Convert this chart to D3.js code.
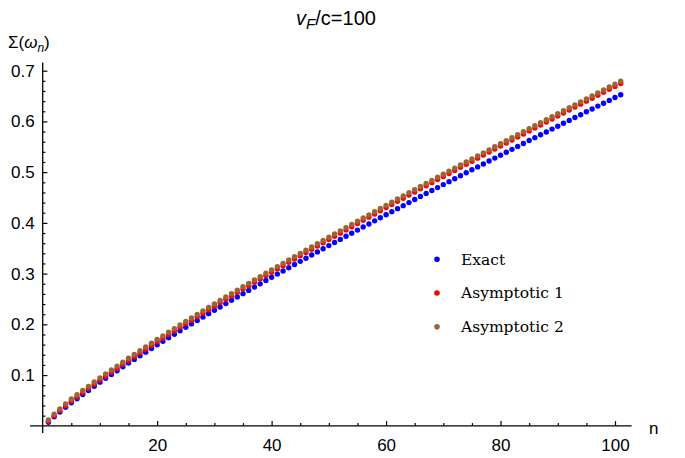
<!DOCTYPE html>
<html>
<head>
<meta charset="utf-8">
<script src="https://cdn.jsdelivr.net/npm/d3@7"></script>
<style>
  body { margin: 0; background: #fff; }
  svg { display: block; }
  .tick text { font-family: "Liberation Sans", Arial, sans-serif; font-size: 17px; fill: #000; }
</style>
</head>
<body>
<svg id="chart" width="685" height="458"></svg>
<script>
// values, n = 1..101
var exact = [0.0069,0.0176,0.0273,0.0365,0.0453,0.0534,0.0616,0.0697,0.0779,0.0860,
  0.0935,0.1011,0.1086,0.1162,0.1237,0.1309,0.1381,0.1452,0.1524,0.1596,
  0.1665,0.1734,0.1804,0.1873,0.1942,0.2009,0.2076,0.2144,0.2211,0.2278,
  0.2343,0.2409,0.2474,0.2540,0.2605,0.2669,0.2734,0.2798,0.2863,0.2927,
  0.2990,0.3053,0.3116,0.3179,0.3242,0.3304,0.3366,0.3428,0.3490,0.3552,
  0.3613,0.3674,0.3736,0.3797,0.3858,0.3919,0.3979,0.4040,0.4100,0.4161,
  0.4221,0.4281,0.4340,0.4400,0.4460,0.4519,0.4578,0.4637,0.4696,0.4755,
  0.4813,0.4871,0.4930,0.4988,0.5046,0.5104,0.5162,0.5219,0.5277,0.5335,
  0.5393,0.5450,0.5508,0.5565,0.5623,0.5680,0.5736,0.5793,0.5849,0.5906,
  0.5963,0.6020,0.6076,0.6133,0.6190,0.6246,0.6302,0.6359,0.6415,0.6471,
  0.6526];
var asym1 = [0.0091,0.0200,0.0299,0.0393,0.0483,0.0566,0.0650,0.0733,0.0817,0.0900,
  0.0977,0.1055,0.1132,0.1210,0.1287,0.1361,0.1435,0.1508,0.1582,0.1656,
  0.1727,0.1798,0.1870,0.1941,0.2012,0.2081,0.2150,0.2220,0.2289,0.2358,
  0.2425,0.2493,0.2560,0.2628,0.2695,0.2761,0.2828,0.2894,0.2961,0.3027,
  0.3092,0.3157,0.3222,0.3287,0.3352,0.3416,0.3480,0.3544,0.3608,0.3672,
  0.3735,0.3798,0.3862,0.3925,0.3988,0.4051,0.4113,0.4176,0.4238,0.4301,
  0.4363,0.4425,0.4486,0.4548,0.4610,0.4671,0.4732,0.4793,0.4854,0.4915,
  0.4975,0.5035,0.5096,0.5156,0.5216,0.5276,0.5336,0.5395,0.5455,0.5515,
  0.5575,0.5634,0.5694,0.5753,0.5813,0.5872,0.5930,0.5989,0.6047,0.6106,
  0.6165,0.6224,0.6282,0.6341,0.6400,0.6458,0.6516,0.6575,0.6633,0.6691,
  0.6748];
var asym2 = [0.0116,0.0230,0.0334,0.0433,0.0528,0.0611,0.0695,0.0778,0.0862,0.0945,
  0.1022,0.1100,0.1177,0.1255,0.1332,0.1406,0.1480,0.1553,0.1627,0.1701,
  0.1772,0.1843,0.1915,0.1986,0.2057,0.2126,0.2195,0.2265,0.2334,0.2403,
  0.2470,0.2538,0.2605,0.2673,0.2740,0.2806,0.2873,0.2939,0.3006,0.3072,
  0.3137,0.3202,0.3267,0.3332,0.3397,0.3461,0.3525,0.3589,0.3653,0.3717,
  0.3780,0.3843,0.3907,0.3970,0.4033,0.4096,0.4158,0.4221,0.4283,0.4346,
  0.4408,0.4470,0.4531,0.4593,0.4655,0.4716,0.4777,0.4838,0.4899,0.4960,
  0.5020,0.5080,0.5141,0.5201,0.5261,0.5321,0.5381,0.5440,0.5500,0.5560,
  0.5620,0.5679,0.5739,0.5798,0.5858,0.5917,0.5975,0.6034,0.6092,0.6151,
  0.6210,0.6269,0.6327,0.6386,0.6445,0.6503,0.6561,0.6620,0.6678,0.6736,
  0.6793];

var seriesNames = ['Exact', 'Asymptotic 1', 'Asymptotic 2'];
var seriesColors = ['#0000ff', '#ff0000', '#996633'];
var xTicks = [20, 40, 60, 80, 100];
var yTicks = [0.1, 0.2, 0.3, 0.4, 0.5, 0.6, 0.7];

var svg = d3.select('#chart');

var x = d3.scaleLinear().domain([0, 100]).range([42.7, 615]);
var y = d3.scaleLinear().domain([0, 0.7]).range([425.8, 70.7]);

var xMinor = d3.range(5, 103, 5).filter(function(v) { return v % 20 !== 0; });
var yMinor = d3.range(1, 36).map(function(v) { return v * 0.02; })
  .filter(function(v) { return Math.abs(v * 10 - Math.round(v * 10)) > 1e-6; });

// axes, ticks inward like Mathematica
var gx = svg.append('g').attr('transform', 'translate(0,' + y(0) + ')');
gx.call(d3.axisBottom(x).tickValues(xTicks).tickSizeInner(-4.7).tickSizeOuter(0)
  .tickPadding(13).tickFormat(d3.format('d')));
gx.append('g').call(d3.axisBottom(x).tickValues(xMinor).tickSizeInner(-2.7)
  .tickSizeOuter(0).tickFormat(''));
gx.selectAll('.domain').remove();
gx.append('line')
  .attr('x1', x(-2.2)).attr('x2', x(102.9))
  .attr('stroke', '#000').attr('stroke-width', 1.3);

var gy = svg.append('g').attr('transform', 'translate(' + x(0) + ',0)');
gy.call(d3.axisLeft(y).tickValues(yTicks).tickSizeInner(-4.7).tickSizeOuter(0)
  .tickPadding(8).tickFormat(d3.format('.1f')));
gy.append('g').call(d3.axisLeft(y).tickValues(yMinor).tickSizeInner(-2.7)
  .tickSizeOuter(0).tickFormat(''));
gy.selectAll('.domain').remove();
gy.append('line')
  .attr('y1', y(0.716)).attr('y2', y(-0.0143))
  .attr('stroke', '#000').attr('stroke-width', 1.3);

svg.selectAll('.tick line').attr('stroke', '#000').attr('stroke-width', 1.2);

// points
[exact, asym1, asym2].forEach(function(vals, k) {
  svg.append('g').selectAll('circle')
    .data(vals)
    .enter()
    .append('circle')
    .attr('cx', function(d, i) { return x(i + 1); })
    .attr('cy', function(d) { return y(d); })
    .attr('r', 2.7)
    .attr('fill', seriesColors[k]);
});

// title and axis labels
var title = svg.append('text')
  .attr('x', 336).attr('y', 25)
  .attr('text-anchor', 'middle')
  .style('font-family', '"Liberation Sans", Arial, sans-serif')
  .style('font-size', '20px');
title.append('tspan').style('font-style', 'italic').text('v');
title.append('tspan').style('font-style', 'italic').style('font-size', '15px')
  .attr('dy', 4).text('F');
title.append('tspan').attr('dy', -4).text('/c=100');

var ylab = svg.append('text')
  .attr('x', 8).attr('y', 48)
  .style('font-family', '"Liberation Sans", Arial, sans-serif')
  .style('font-size', '17px');
ylab.append('tspan').text('Σ(');
ylab.append('tspan').style('font-style', 'italic').text('ω');
ylab.append('tspan').style('font-style', 'italic').style('font-size', '12px')
  .attr('dy', 4).text('n');
ylab.append('tspan').attr('dy', -4).text(')');

svg.append('text')
  .attr('x', 649).attr('y', 434)
  .style('font-family', '"Liberation Sans", Arial, sans-serif')
  .style('font-size', '17px')
  .text('n');

// legend
var legend = svg.append('g').selectAll('g')
  .data(seriesNames)
  .enter()
  .append('g')
  .attr('transform', function(d, i) { return 'translate(437,' + (259.3 + i * 33.7) + ')'; });
legend.append('circle').attr('r', 2.8).attr('fill', function(d, i) { return seriesColors[i]; });
legend.append('text')
  .attr('x', 24).attr('dy', '0.35em')
  .style('font-family', '"DejaVu Serif", serif')
  .style('font-size', '15.5px')
  .text(function(d) { return d; });
</script>
</body>
</html>
